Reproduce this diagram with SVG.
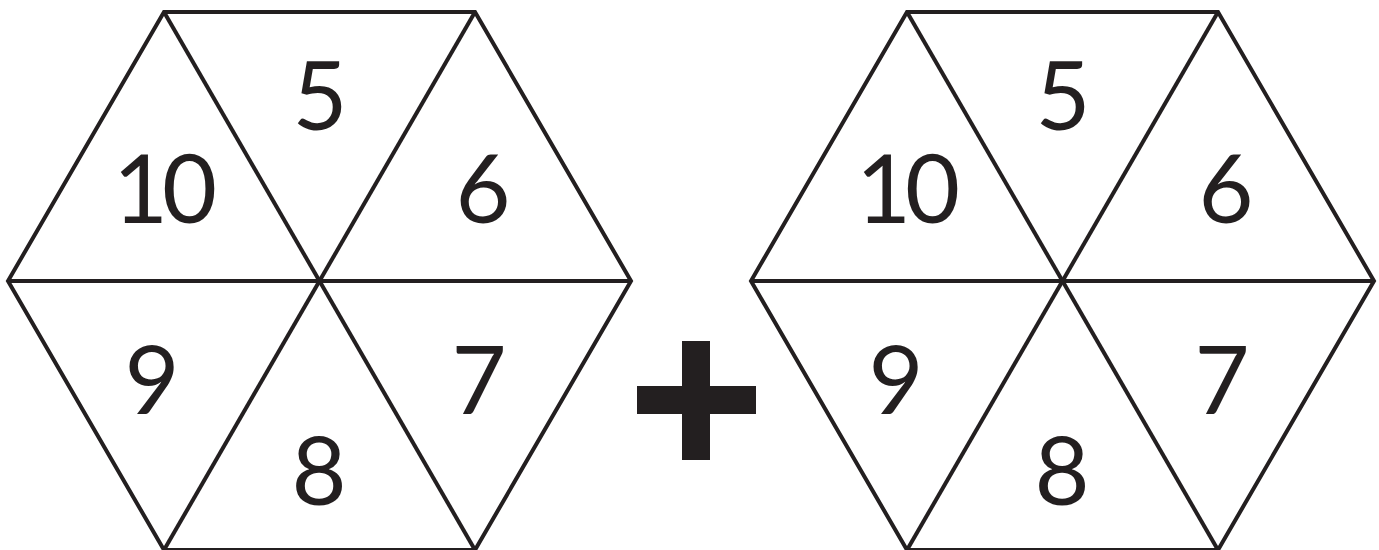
<svg xmlns="http://www.w3.org/2000/svg" width="1379" height="550" viewBox="0 0 1379 550">
  <style>
    .hex { fill: none; stroke: #231f20; stroke-width: 4; stroke-linejoin: miter; }
    .ln { stroke: #231f20; stroke-width: 4; }
    .num { font-family: Lato, "Open Sans", "DejaVu Sans", sans-serif; font-size: 95px; fill: #231f20; text-anchor: middle; }
    .tight { letter-spacing: -6px; }
  </style>
  <rect width="1379" height="550" fill="#ffffff"/>
  <defs>
    <g id="hexshape">
      <polygon class="hex" points="8,281 164,12 475,12 631,281 475,550 164,550"/>
      <line class="ln" x1="8" y1="281" x2="631" y2="281"/>
      <line class="ln" x1="164" y1="12" x2="475" y2="550"/>
      <line class="ln" x1="475" y1="12" x2="164" y2="550"/>
    </g>
  </defs>
  <g id="hexagon-left">
    <use href="#hexshape"/>
    <text class="num" x="320" y="130">5</text>
    <text class="num tight" x="162" y="223">10</text>
    <text class="num" x="483" y="223">6</text>
    <text class="num" x="152" y="414">9</text>
    <text class="num" x="479" y="414">7</text>
    <text class="num" x="319" y="505">8</text>
  </g>
  <g id="plus">
    <rect x="682" y="341" width="28" height="119" fill="#231f20"/>
    <rect x="637" y="386" width="119" height="28" fill="#231f20"/>
  </g>
  <g id="hexagon-right">
    <use href="#hexshape" transform="translate(743,0)"/>
    <text class="num" x="1063" y="130">5</text>
    <text class="num tight" x="905" y="223">10</text>
    <text class="num" x="1226" y="223">6</text>
    <text class="num" x="896" y="414">9</text>
    <text class="num" x="1222" y="414">7</text>
    <text class="num" x="1062" y="505">8</text>
  </g>
  <g id="connectors"></g>
</svg>
